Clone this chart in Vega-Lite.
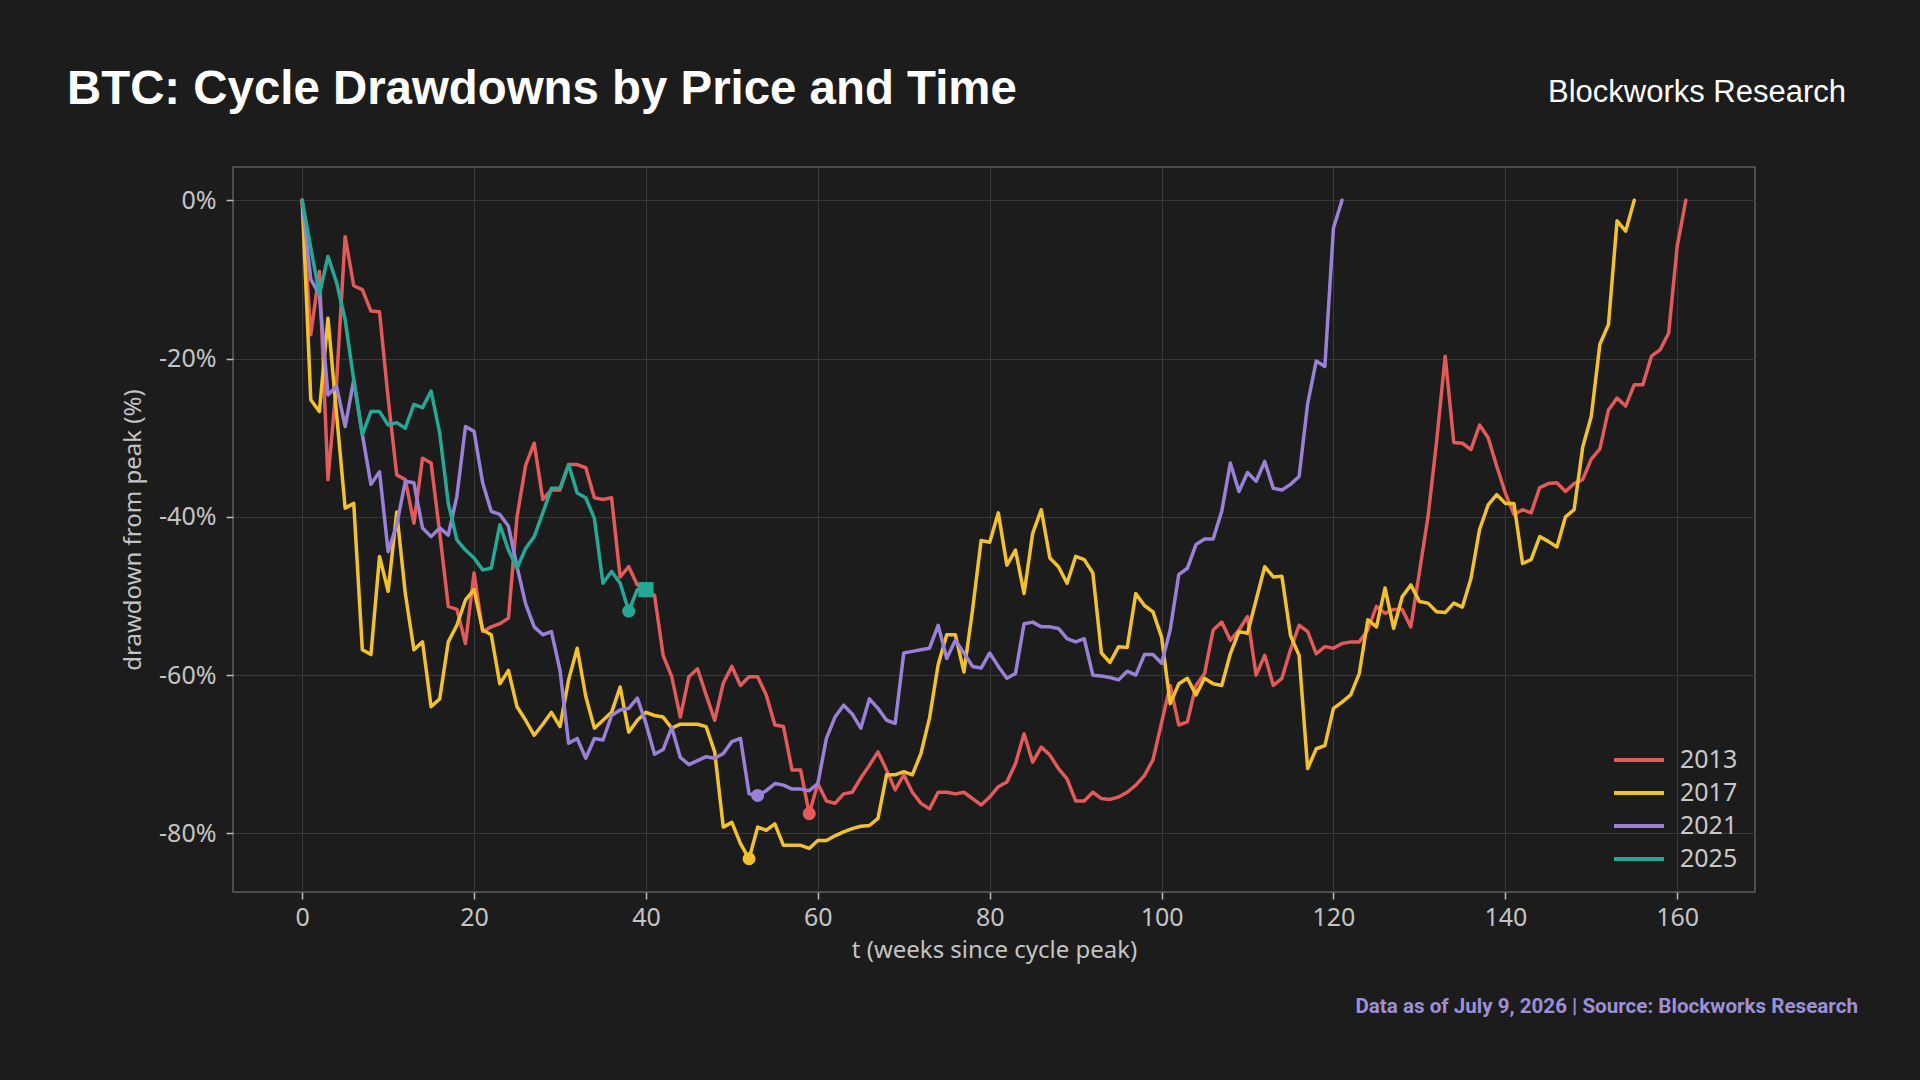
{
  "$schema": "https://vega.github.io/schema/vega-lite/v6.json",
  "width": 1522,
  "height": 725,
  "autosize": {"type": "none"},
  "padding": {"left": 233, "top": 167, "right": 165, "bottom": 188},
  "background": "#1c1c1c",
  "datasets": {
    "cycles": [
      {"cycle":"2013","week":0,"drawdown":0},{"cycle":"2013","week":1,"drawdown":-17},{"cycle":"2013","week":2,"drawdown":-9},{"cycle":"2013","week":3,"drawdown":-35.3},{"cycle":"2013","week":4,"drawdown":-23},{"cycle":"2013","week":5,"drawdown":-4.6},{"cycle":"2013","week":6,"drawdown":-10.8},{"cycle":"2013","week":7,"drawdown":-11.3},{"cycle":"2013","week":8,"drawdown":-14},{"cycle":"2013","week":9,"drawdown":-14.1},
      {"cycle":"2013","week":10,"drawdown":-25},{"cycle":"2013","week":11,"drawdown":-34.7},{"cycle":"2013","week":12,"drawdown":-35.3},{"cycle":"2013","week":13,"drawdown":-40.8},{"cycle":"2013","week":14,"drawdown":-32.6},{"cycle":"2013","week":15,"drawdown":-33.2},{"cycle":"2013","week":16,"drawdown":-42},{"cycle":"2013","week":17,"drawdown":-51.3},{"cycle":"2013","week":18,"drawdown":-51.7},{"cycle":"2013","week":19,"drawdown":-56},
      {"cycle":"2013","week":20,"drawdown":-47.1},{"cycle":"2013","week":21,"drawdown":-54.5},{"cycle":"2013","week":22,"drawdown":-53.9},{"cycle":"2013","week":23,"drawdown":-53.5},{"cycle":"2013","week":24,"drawdown":-52.8},{"cycle":"2013","week":25,"drawdown":-40},{"cycle":"2013","week":26,"drawdown":-33.5},{"cycle":"2013","week":27,"drawdown":-30.7},{"cycle":"2013","week":28,"drawdown":-37.8},{"cycle":"2013","week":29,"drawdown":-36.6},
      {"cycle":"2013","week":30,"drawdown":-36.6},{"cycle":"2013","week":31,"drawdown":-33.4},{"cycle":"2013","week":32,"drawdown":-33.4},{"cycle":"2013","week":33,"drawdown":-33.8},{"cycle":"2013","week":34,"drawdown":-37.6},{"cycle":"2013","week":35,"drawdown":-37.8},{"cycle":"2013","week":36,"drawdown":-37.6},{"cycle":"2013","week":37,"drawdown":-47.6},{"cycle":"2013","week":38,"drawdown":-46.3},{"cycle":"2013","week":39,"drawdown":-48.6},
      {"cycle":"2013","week":40,"drawdown":-49.3},{"cycle":"2013","week":41,"drawdown":-49.9},{"cycle":"2013","week":42,"drawdown":-57.5},{"cycle":"2013","week":43,"drawdown":-60.2},{"cycle":"2013","week":44,"drawdown":-65.3},{"cycle":"2013","week":45,"drawdown":-60.2},{"cycle":"2013","week":46,"drawdown":-59.2},{"cycle":"2013","week":47,"drawdown":-62.5},{"cycle":"2013","week":48,"drawdown":-65.7},{"cycle":"2013","week":49,"drawdown":-61},
      {"cycle":"2013","week":50,"drawdown":-58.9},{"cycle":"2013","week":51,"drawdown":-61.3},{"cycle":"2013","week":52,"drawdown":-60.2},{"cycle":"2013","week":53,"drawdown":-60.2},{"cycle":"2013","week":54,"drawdown":-62.5},{"cycle":"2013","week":55,"drawdown":-66.3},{"cycle":"2013","week":56,"drawdown":-66.5},{"cycle":"2013","week":57,"drawdown":-72},{"cycle":"2013","week":58,"drawdown":-72},{"cycle":"2013","week":59,"drawdown":-77.5},
      {"cycle":"2013","week":60,"drawdown":-73.7},{"cycle":"2013","week":61,"drawdown":-75.9},{"cycle":"2013","week":62,"drawdown":-76.2},{"cycle":"2013","week":63,"drawdown":-75},{"cycle":"2013","week":64,"drawdown":-74.8},{"cycle":"2013","week":65,"drawdown":-73},{"cycle":"2013","week":66,"drawdown":-71.4},{"cycle":"2013","week":67,"drawdown":-69.7},{"cycle":"2013","week":68,"drawdown":-72},{"cycle":"2013","week":69,"drawdown":-74.5},
      {"cycle":"2013","week":70,"drawdown":-72.6},{"cycle":"2013","week":71,"drawdown":-74.8},{"cycle":"2013","week":72,"drawdown":-76.2},{"cycle":"2013","week":73,"drawdown":-76.9},{"cycle":"2013","week":74,"drawdown":-74.8},{"cycle":"2013","week":75,"drawdown":-74.8},{"cycle":"2013","week":76,"drawdown":-75},{"cycle":"2013","week":77,"drawdown":-74.8},{"cycle":"2013","week":78,"drawdown":-75.6},{"cycle":"2013","week":79,"drawdown":-76.4},
      {"cycle":"2013","week":80,"drawdown":-75.4},{"cycle":"2013","week":81,"drawdown":-74.1},{"cycle":"2013","week":82,"drawdown":-73.5},{"cycle":"2013","week":83,"drawdown":-71.2},{"cycle":"2013","week":84,"drawdown":-67.4},{"cycle":"2013","week":85,"drawdown":-71},{"cycle":"2013","week":86,"drawdown":-69.1},{"cycle":"2013","week":87,"drawdown":-70.1},{"cycle":"2013","week":88,"drawdown":-71.8},{"cycle":"2013","week":89,"drawdown":-73.1},
      {"cycle":"2013","week":90,"drawdown":-75.9},{"cycle":"2013","week":91,"drawdown":-75.9},{"cycle":"2013","week":92,"drawdown":-74.8},{"cycle":"2013","week":93,"drawdown":-75.6},{"cycle":"2013","week":94,"drawdown":-75.7},{"cycle":"2013","week":95,"drawdown":-75.4},{"cycle":"2013","week":96,"drawdown":-74.8},{"cycle":"2013","week":97,"drawdown":-73.9},{"cycle":"2013","week":98,"drawdown":-72.7},{"cycle":"2013","week":99,"drawdown":-70.7},
      {"cycle":"2013","week":100,"drawdown":-66},{"cycle":"2013","week":101,"drawdown":-61.3},{"cycle":"2013","week":102,"drawdown":-66.3},{"cycle":"2013","week":103,"drawdown":-65.9},{"cycle":"2013","week":104,"drawdown":-61.3},{"cycle":"2013","week":105,"drawdown":-59.8},{"cycle":"2013","week":106,"drawdown":-54.3},{"cycle":"2013","week":107,"drawdown":-53.3},{"cycle":"2013","week":108,"drawdown":-55.6},{"cycle":"2013","week":109,"drawdown":-54.3},
      {"cycle":"2013","week":110,"drawdown":-52.6},{"cycle":"2013","week":111,"drawdown":-60},{"cycle":"2013","week":112,"drawdown":-57.5},{"cycle":"2013","week":113,"drawdown":-61.3},{"cycle":"2013","week":114,"drawdown":-60.4},{"cycle":"2013","week":115,"drawdown":-56.8},{"cycle":"2013","week":116,"drawdown":-53.7},{"cycle":"2013","week":117,"drawdown":-54.5},{"cycle":"2013","week":118,"drawdown":-57.3},{"cycle":"2013","week":119,"drawdown":-56.4},
      {"cycle":"2013","week":120,"drawdown":-56.6},{"cycle":"2013","week":121,"drawdown":-56},{"cycle":"2013","week":122,"drawdown":-55.8},{"cycle":"2013","week":123,"drawdown":-55.8},{"cycle":"2013","week":124,"drawdown":-54.3},{"cycle":"2013","week":125,"drawdown":-51.3},{"cycle":"2013","week":126,"drawdown":-52.2},{"cycle":"2013","week":127,"drawdown":-51.7},{"cycle":"2013","week":128,"drawdown":-51.7},{"cycle":"2013","week":129,"drawdown":-53.9},
      {"cycle":"2013","week":130,"drawdown":-47},{"cycle":"2013","week":131,"drawdown":-40},{"cycle":"2013","week":132,"drawdown":-30.5},{"cycle":"2013","week":133,"drawdown":-19.7},{"cycle":"2013","week":134,"drawdown":-30.6},{"cycle":"2013","week":135,"drawdown":-30.7},{"cycle":"2013","week":136,"drawdown":-31.5},{"cycle":"2013","week":137,"drawdown":-28.4},{"cycle":"2013","week":138,"drawdown":-30},{"cycle":"2013","week":139,"drawdown":-33.6},
      {"cycle":"2013","week":140,"drawdown":-37},{"cycle":"2013","week":141,"drawdown":-39.7},{"cycle":"2013","week":142,"drawdown":-39.1},{"cycle":"2013","week":143,"drawdown":-39.5},{"cycle":"2013","week":144,"drawdown":-36.3},{"cycle":"2013","week":145,"drawdown":-35.8},{"cycle":"2013","week":146,"drawdown":-35.7},{"cycle":"2013","week":147,"drawdown":-36.8},{"cycle":"2013","week":148,"drawdown":-35.8},{"cycle":"2013","week":149,"drawdown":-35.3},
      {"cycle":"2013","week":150,"drawdown":-32.7},{"cycle":"2013","week":151,"drawdown":-31.4},{"cycle":"2013","week":152,"drawdown":-26.5},{"cycle":"2013","week":153,"drawdown":-25},{"cycle":"2013","week":154,"drawdown":-26},{"cycle":"2013","week":155,"drawdown":-23.3},{"cycle":"2013","week":156,"drawdown":-23.3},{"cycle":"2013","week":157,"drawdown":-19.7},{"cycle":"2013","week":158,"drawdown":-18.9},{"cycle":"2013","week":159,"drawdown":-16.8},
      {"cycle":"2013","week":160,"drawdown":-5.8},{"cycle":"2013","week":161,"drawdown":0},

      {"cycle":"2017","week":0,"drawdown":0},{"cycle":"2017","week":1,"drawdown":-25.2},{"cycle":"2017","week":2,"drawdown":-26.7},{"cycle":"2017","week":3,"drawdown":-14.9},{"cycle":"2017","week":4,"drawdown":-27},{"cycle":"2017","week":5,"drawdown":-38.9},{"cycle":"2017","week":6,"drawdown":-38.3},{"cycle":"2017","week":7,"drawdown":-56.8},{"cycle":"2017","week":8,"drawdown":-57.4},{"cycle":"2017","week":9,"drawdown":-45},
      {"cycle":"2017","week":10,"drawdown":-49.4},{"cycle":"2017","week":11,"drawdown":-39.4},{"cycle":"2017","week":12,"drawdown":-49.7},{"cycle":"2017","week":13,"drawdown":-56.8},{"cycle":"2017","week":14,"drawdown":-55.8},{"cycle":"2017","week":15,"drawdown":-64},{"cycle":"2017","week":16,"drawdown":-63},{"cycle":"2017","week":17,"drawdown":-55.8},{"cycle":"2017","week":18,"drawdown":-53.7},{"cycle":"2017","week":19,"drawdown":-50.5},
      {"cycle":"2017","week":20,"drawdown":-49.2},{"cycle":"2017","week":21,"drawdown":-54.3},{"cycle":"2017","week":22,"drawdown":-54.9},{"cycle":"2017","week":23,"drawdown":-61.1},{"cycle":"2017","week":24,"drawdown":-59.4},{"cycle":"2017","week":25,"drawdown":-64},{"cycle":"2017","week":26,"drawdown":-65.7},{"cycle":"2017","week":27,"drawdown":-67.6},{"cycle":"2017","week":28,"drawdown":-66.2},{"cycle":"2017","week":29,"drawdown":-64.7},
      {"cycle":"2017","week":30,"drawdown":-66.5},{"cycle":"2017","week":31,"drawdown":-60.6},{"cycle":"2017","week":32,"drawdown":-56.6},{"cycle":"2017","week":33,"drawdown":-62.7},{"cycle":"2017","week":34,"drawdown":-66.7},{"cycle":"2017","week":35,"drawdown":-65.7},{"cycle":"2017","week":36,"drawdown":-64.7},{"cycle":"2017","week":37,"drawdown":-61.5},{"cycle":"2017","week":38,"drawdown":-67.2},{"cycle":"2017","week":39,"drawdown":-65.7},
      {"cycle":"2017","week":40,"drawdown":-64.7},{"cycle":"2017","week":41,"drawdown":-65.1},{"cycle":"2017","week":42,"drawdown":-65.3},{"cycle":"2017","week":43,"drawdown":-66.7},{"cycle":"2017","week":44,"drawdown":-66.2},{"cycle":"2017","week":45,"drawdown":-66.2},{"cycle":"2017","week":46,"drawdown":-66.2},{"cycle":"2017","week":47,"drawdown":-66.5},{"cycle":"2017","week":48,"drawdown":-69.7},{"cycle":"2017","week":49,"drawdown":-79.2},
      {"cycle":"2017","week":50,"drawdown":-78.6},{"cycle":"2017","week":51,"drawdown":-81.3},{"cycle":"2017","week":52,"drawdown":-83.2},{"cycle":"2017","week":53,"drawdown":-79.2},{"cycle":"2017","week":54,"drawdown":-79.6},{"cycle":"2017","week":55,"drawdown":-78.8},{"cycle":"2017","week":56,"drawdown":-81.5},{"cycle":"2017","week":57,"drawdown":-81.5},{"cycle":"2017","week":58,"drawdown":-81.5},{"cycle":"2017","week":59,"drawdown":-81.9},
      {"cycle":"2017","week":60,"drawdown":-80.9},{"cycle":"2017","week":61,"drawdown":-80.9},{"cycle":"2017","week":62,"drawdown":-80.3},{"cycle":"2017","week":63,"drawdown":-79.8},{"cycle":"2017","week":64,"drawdown":-79.4},{"cycle":"2017","week":65,"drawdown":-79.1},{"cycle":"2017","week":66,"drawdown":-79},{"cycle":"2017","week":67,"drawdown":-78.1},{"cycle":"2017","week":68,"drawdown":-72.6},{"cycle":"2017","week":69,"drawdown":-72.6},
      {"cycle":"2017","week":70,"drawdown":-72.2},{"cycle":"2017","week":71,"drawdown":-72.6},{"cycle":"2017","week":72,"drawdown":-69.9},{"cycle":"2017","week":73,"drawdown":-65.4},{"cycle":"2017","week":74,"drawdown":-58.7},{"cycle":"2017","week":75,"drawdown":-54.9},{"cycle":"2017","week":76,"drawdown":-54.9},{"cycle":"2017","week":77,"drawdown":-59.6},{"cycle":"2017","week":78,"drawdown":-51.8},{"cycle":"2017","week":79,"drawdown":-43},
      {"cycle":"2017","week":80,"drawdown":-43.2},{"cycle":"2017","week":81,"drawdown":-39.5},{"cycle":"2017","week":82,"drawdown":-46.1},{"cycle":"2017","week":83,"drawdown":-44.2},{"cycle":"2017","week":84,"drawdown":-49.7},{"cycle":"2017","week":85,"drawdown":-42.1},{"cycle":"2017","week":86,"drawdown":-39.1},{"cycle":"2017","week":87,"drawdown":-45.2},{"cycle":"2017","week":88,"drawdown":-46.3},{"cycle":"2017","week":89,"drawdown":-48.4},
      {"cycle":"2017","week":90,"drawdown":-45},{"cycle":"2017","week":91,"drawdown":-45.4},{"cycle":"2017","week":92,"drawdown":-47.1},{"cycle":"2017","week":93,"drawdown":-57.2},{"cycle":"2017","week":94,"drawdown":-58.4},{"cycle":"2017","week":95,"drawdown":-56.4},{"cycle":"2017","week":96,"drawdown":-56.5},{"cycle":"2017","week":97,"drawdown":-49.7},{"cycle":"2017","week":98,"drawdown":-51.2},{"cycle":"2017","week":99,"drawdown":-52},
      {"cycle":"2017","week":100,"drawdown":-55.2},{"cycle":"2017","week":101,"drawdown":-63.6},{"cycle":"2017","week":102,"drawdown":-61.1},{"cycle":"2017","week":103,"drawdown":-60.4},{"cycle":"2017","week":104,"drawdown":-62.5},{"cycle":"2017","week":105,"drawdown":-60.4},{"cycle":"2017","week":106,"drawdown":-61.1},{"cycle":"2017","week":107,"drawdown":-61.3},{"cycle":"2017","week":108,"drawdown":-57.3},{"cycle":"2017","week":109,"drawdown":-54.5},
      {"cycle":"2017","week":110,"drawdown":-54.7},{"cycle":"2017","week":111,"drawdown":-50.5},{"cycle":"2017","week":112,"drawdown":-46.3},{"cycle":"2017","week":113,"drawdown":-47.6},{"cycle":"2017","week":114,"drawdown":-47.5},{"cycle":"2017","week":115,"drawdown":-55},{"cycle":"2017","week":116,"drawdown":-57.5},{"cycle":"2017","week":117,"drawdown":-71.8},{"cycle":"2017","week":118,"drawdown":-69.3},{"cycle":"2017","week":119,"drawdown":-68.9},
      {"cycle":"2017","week":120,"drawdown":-64.2},{"cycle":"2017","week":121,"drawdown":-63.4},{"cycle":"2017","week":122,"drawdown":-62.5},{"cycle":"2017","week":123,"drawdown":-59.8},{"cycle":"2017","week":124,"drawdown":-53},{"cycle":"2017","week":125,"drawdown":-53.9},{"cycle":"2017","week":126,"drawdown":-49},{"cycle":"2017","week":127,"drawdown":-54.1},{"cycle":"2017","week":128,"drawdown":-50.1},{"cycle":"2017","week":129,"drawdown":-48.6},
      {"cycle":"2017","week":130,"drawdown":-50.7},{"cycle":"2017","week":131,"drawdown":-50.9},{"cycle":"2017","week":132,"drawdown":-52},{"cycle":"2017","week":133,"drawdown":-52.1},{"cycle":"2017","week":134,"drawdown":-50.9},{"cycle":"2017","week":135,"drawdown":-51.4},{"cycle":"2017","week":136,"drawdown":-47.8},{"cycle":"2017","week":137,"drawdown":-41.6},{"cycle":"2017","week":138,"drawdown":-38.5},{"cycle":"2017","week":139,"drawdown":-37.2},
      {"cycle":"2017","week":140,"drawdown":-38.3},{"cycle":"2017","week":141,"drawdown":-38.3},{"cycle":"2017","week":142,"drawdown":-45.9},{"cycle":"2017","week":143,"drawdown":-45.4},{"cycle":"2017","week":144,"drawdown":-42.5},{"cycle":"2017","week":145,"drawdown":-43.1},{"cycle":"2017","week":146,"drawdown":-43.8},{"cycle":"2017","week":147,"drawdown":-40},{"cycle":"2017","week":148,"drawdown":-39.1},{"cycle":"2017","week":149,"drawdown":-31.2},
      {"cycle":"2017","week":150,"drawdown":-27.3},{"cycle":"2017","week":151,"drawdown":-18.2},{"cycle":"2017","week":152,"drawdown":-15.7},{"cycle":"2017","week":153,"drawdown":-2.6},{"cycle":"2017","week":154,"drawdown":-3.9},{"cycle":"2017","week":155,"drawdown":0},

      {"cycle":"2021","week":0,"drawdown":0},{"cycle":"2021","week":1,"drawdown":-10},{"cycle":"2021","week":2,"drawdown":-11.9},{"cycle":"2021","week":3,"drawdown":-24.6},{"cycle":"2021","week":4,"drawdown":-23.5},{"cycle":"2021","week":5,"drawdown":-28.6},{"cycle":"2021","week":6,"drawdown":-22.7},{"cycle":"2021","week":7,"drawdown":-29.6},{"cycle":"2021","week":8,"drawdown":-35.9},{"cycle":"2021","week":9,"drawdown":-34.3},
      {"cycle":"2021","week":10,"drawdown":-44.4},{"cycle":"2021","week":11,"drawdown":-41},{"cycle":"2021","week":12,"drawdown":-35.5},{"cycle":"2021","week":13,"drawdown":-35.7},{"cycle":"2021","week":14,"drawdown":-41.4},{"cycle":"2021","week":15,"drawdown":-42.5},{"cycle":"2021","week":16,"drawdown":-41.4},{"cycle":"2021","week":17,"drawdown":-42.3},{"cycle":"2021","week":18,"drawdown":-37.4},{"cycle":"2021","week":19,"drawdown":-28.6},
      {"cycle":"2021","week":20,"drawdown":-29.2},{"cycle":"2021","week":21,"drawdown":-35.7},{"cycle":"2021","week":22,"drawdown":-39.3},{"cycle":"2021","week":23,"drawdown":-39.7},{"cycle":"2021","week":24,"drawdown":-41.2},{"cycle":"2021","week":25,"drawdown":-46.3},{"cycle":"2021","week":26,"drawdown":-51},{"cycle":"2021","week":27,"drawdown":-53.9},{"cycle":"2021","week":28,"drawdown":-54.9},{"cycle":"2021","week":29,"drawdown":-54.5},
      {"cycle":"2021","week":30,"drawdown":-59.4},{"cycle":"2021","week":31,"drawdown":-68.6},{"cycle":"2021","week":32,"drawdown":-68},{"cycle":"2021","week":33,"drawdown":-70.5},{"cycle":"2021","week":34,"drawdown":-68},{"cycle":"2021","week":35,"drawdown":-68.2},{"cycle":"2021","week":36,"drawdown":-65.1},{"cycle":"2021","week":37,"drawdown":-64.4},{"cycle":"2021","week":38,"drawdown":-64.2},{"cycle":"2021","week":39,"drawdown":-62.9},
      {"cycle":"2021","week":40,"drawdown":-66.1},{"cycle":"2021","week":41,"drawdown":-70},{"cycle":"2021","week":42,"drawdown":-69.4},{"cycle":"2021","week":43,"drawdown":-66.6},{"cycle":"2021","week":44,"drawdown":-70.4},{"cycle":"2021","week":45,"drawdown":-71.3},{"cycle":"2021","week":46,"drawdown":-70.8},{"cycle":"2021","week":47,"drawdown":-70.3},{"cycle":"2021","week":48,"drawdown":-70.5},{"cycle":"2021","week":49,"drawdown":-69.9},
      {"cycle":"2021","week":50,"drawdown":-68.4},{"cycle":"2021","week":51,"drawdown":-68},{"cycle":"2021","week":52,"drawdown":-75},{"cycle":"2021","week":53,"drawdown":-75.2},{"cycle":"2021","week":54,"drawdown":-74.6},{"cycle":"2021","week":55,"drawdown":-73.7},{"cycle":"2021","week":56,"drawdown":-73.9},{"cycle":"2021","week":57,"drawdown":-74.4},{"cycle":"2021","week":58,"drawdown":-74.4},{"cycle":"2021","week":59,"drawdown":-74.6},
      {"cycle":"2021","week":60,"drawdown":-73.7},{"cycle":"2021","week":61,"drawdown":-68},{"cycle":"2021","week":62,"drawdown":-65.3},{"cycle":"2021","week":63,"drawdown":-63.8},{"cycle":"2021","week":64,"drawdown":-64.9},{"cycle":"2021","week":65,"drawdown":-66.7},{"cycle":"2021","week":66,"drawdown":-63},{"cycle":"2021","week":67,"drawdown":-64.2},{"cycle":"2021","week":68,"drawdown":-65.7},{"cycle":"2021","week":69,"drawdown":-66.1},
      {"cycle":"2021","week":70,"drawdown":-57.2},{"cycle":"2021","week":71,"drawdown":-57},{"cycle":"2021","week":72,"drawdown":-56.8},{"cycle":"2021","week":73,"drawdown":-56.6},{"cycle":"2021","week":74,"drawdown":-53.7},{"cycle":"2021","week":75,"drawdown":-57.9},{"cycle":"2021","week":76,"drawdown":-55.6},{"cycle":"2021","week":77,"drawdown":-57.2},{"cycle":"2021","week":78,"drawdown":-58.9},{"cycle":"2021","week":79,"drawdown":-59.1},
      {"cycle":"2021","week":80,"drawdown":-57.2},{"cycle":"2021","week":81,"drawdown":-58.9},{"cycle":"2021","week":82,"drawdown":-60.4},{"cycle":"2021","week":83,"drawdown":-59.8},{"cycle":"2021","week":84,"drawdown":-53.5},{"cycle":"2021","week":85,"drawdown":-53.3},{"cycle":"2021","week":86,"drawdown":-53.9},{"cycle":"2021","week":87,"drawdown":-53.9},{"cycle":"2021","week":88,"drawdown":-54.1},{"cycle":"2021","week":89,"drawdown":-55.4},
      {"cycle":"2021","week":90,"drawdown":-55.8},{"cycle":"2021","week":91,"drawdown":-55.4},{"cycle":"2021","week":92,"drawdown":-60},{"cycle":"2021","week":93,"drawdown":-60.1},{"cycle":"2021","week":94,"drawdown":-60.3},{"cycle":"2021","week":95,"drawdown":-60.6},{"cycle":"2021","week":96,"drawdown":-59.5},{"cycle":"2021","week":97,"drawdown":-60},{"cycle":"2021","week":98,"drawdown":-57.4},{"cycle":"2021","week":99,"drawdown":-57.4},
      {"cycle":"2021","week":100,"drawdown":-58.5},{"cycle":"2021","week":101,"drawdown":-54.3},{"cycle":"2021","week":102,"drawdown":-47.3},{"cycle":"2021","week":103,"drawdown":-46.5},{"cycle":"2021","week":104,"drawdown":-43.5},{"cycle":"2021","week":105,"drawdown":-42.8},{"cycle":"2021","week":106,"drawdown":-42.8},{"cycle":"2021","week":107,"drawdown":-39.3},{"cycle":"2021","week":108,"drawdown":-33.2},{"cycle":"2021","week":109,"drawdown":-36.8},
      {"cycle":"2021","week":110,"drawdown":-34.4},{"cycle":"2021","week":111,"drawdown":-35.5},{"cycle":"2021","week":112,"drawdown":-33},{"cycle":"2021","week":113,"drawdown":-36.4},{"cycle":"2021","week":114,"drawdown":-36.6},{"cycle":"2021","week":115,"drawdown":-35.9},{"cycle":"2021","week":116,"drawdown":-34.9},{"cycle":"2021","week":117,"drawdown":-25.7},{"cycle":"2021","week":118,"drawdown":-20.3},{"cycle":"2021","week":119,"drawdown":-21},
      {"cycle":"2021","week":120,"drawdown":-3.5},{"cycle":"2021","week":121,"drawdown":0},

      {"cycle":"2025","week":0,"drawdown":0},{"cycle":"2025","week":1,"drawdown":-6},{"cycle":"2025","week":2,"drawdown":-11.9},{"cycle":"2025","week":3,"drawdown":-7.1},{"cycle":"2025","week":4,"drawdown":-10.4},{"cycle":"2025","week":5,"drawdown":-15.1},{"cycle":"2025","week":6,"drawdown":-22.7},{"cycle":"2025","week":7,"drawdown":-29.6},{"cycle":"2025","week":8,"drawdown":-26.7},{"cycle":"2025","week":9,"drawdown":-26.7},
      {"cycle":"2025","week":10,"drawdown":-28.4},{"cycle":"2025","week":11,"drawdown":-28.1},{"cycle":"2025","week":12,"drawdown":-28.8},{"cycle":"2025","week":13,"drawdown":-25.8},{"cycle":"2025","week":14,"drawdown":-26.2},{"cycle":"2025","week":15,"drawdown":-24.1},{"cycle":"2025","week":16,"drawdown":-29.4},{"cycle":"2025","week":17,"drawdown":-38.3},{"cycle":"2025","week":18,"drawdown":-42.9},{"cycle":"2025","week":19,"drawdown":-44.2},
      {"cycle":"2025","week":20,"drawdown":-45.2},{"cycle":"2025","week":21,"drawdown":-46.7},{"cycle":"2025","week":22,"drawdown":-46.5},{"cycle":"2025","week":23,"drawdown":-41},{"cycle":"2025","week":24,"drawdown":-44.2},{"cycle":"2025","week":25,"drawdown":-46.5},{"cycle":"2025","week":26,"drawdown":-44},{"cycle":"2025","week":27,"drawdown":-42.5},{"cycle":"2025","week":28,"drawdown":-39.5},{"cycle":"2025","week":29,"drawdown":-36.4},
      {"cycle":"2025","week":30,"drawdown":-36.4},{"cycle":"2025","week":31,"drawdown":-33.4},{"cycle":"2025","week":32,"drawdown":-37},{"cycle":"2025","week":33,"drawdown":-37.6},{"cycle":"2025","week":34,"drawdown":-40.2},{"cycle":"2025","week":35,"drawdown":-48.4},{"cycle":"2025","week":36,"drawdown":-46.9},{"cycle":"2025","week":37,"drawdown":-48.4},{"cycle":"2025","week":38,"drawdown":-51.9},{"cycle":"2025","week":39,"drawdown":-49.2},
      {"cycle":"2025","week":40,"drawdown":-49.2}
    ],
    "markers": [
      {"cycle":"2013","week":59,"drawdown":-77.5,"kind":"min"},
      {"cycle":"2017","week":52,"drawdown":-83.2,"kind":"min"},
      {"cycle":"2021","week":53,"drawdown":-75.2,"kind":"min"},
      {"cycle":"2025","week":38,"drawdown":-51.9,"kind":"min"},
      {"cycle":"2025","week":40,"drawdown":-49.2,"kind":"current"}
    ]
  },
  "layer": [
    {
      "mark": {"type": "rule", "color": "#9a9a9a", "strokeWidth": 2},
      "encoding": {
        "y": {"datum": 0, "type": "quantitative", "scale": {"domain": [-87.4, 4.2], "nice": false, "zero": false}, "axis": {"values": [0, -20, -40, -60, -80], "labelExpr": "datum.value + '%'", "title": "drawdown from peak (%)", "titlePadding": 13, "labelPadding": 10, "tickSize": 7}}
      }
    },
    {
      "data": {"name": "cycles"},
      "mark": {"type": "line", "strokeWidth": 3.5, "strokeJoin": "round", "strokeCap": "round"},
      "encoding": {
        "x": {"field": "week", "type": "quantitative", "scale": {"domain": [-8.05, 169.05], "nice": false, "zero": false}, "axis": {"values": [0, 20, 40, 60, 80, 100, 120, 140, 160], "title": "t (weeks since cycle peak)", "labelPadding": 6, "titlePadding": 8, "tickSize": 7}},
        "y": {"field": "drawdown", "type": "quantitative", "scale": {"domain": [-87.4, 4.2], "nice": false, "zero": false}, "axis": {"values": [0, -20, -40, -60, -80], "labelExpr": "datum.value + '%'", "title": "drawdown from peak (%)", "titlePadding": 13, "labelPadding": 10, "tickSize": 7}},
        "color": {
          "field": "cycle", "type": "nominal",
          "scale": {"domain": ["2013", "2017", "2021", "2025"], "range": ["#e35a5a", "#f2c12e", "#9a80d6", "#25a896"]},
          "legend": {"title": null, "orient": "none", "legendX": 1391.5, "legendY": 578.5, "symbolType": "M-2,0H2", "symbolSize": 625, "symbolStrokeWidth": 4, "labelFontSize": 25, "labelColor": "#c8c8c8", "labelOffset": 26.5, "rowPadding": 5, "padding": 0}
        }
      }
    },
    {
      "data": {"name": "markers"},
      "mark": {"type": "point", "filled": true, "opacity": 1},
      "encoding": {
        "x": {"field": "week", "type": "quantitative", "scale": {"domain": [-8.05, 169.05], "nice": false, "zero": false}, "axis": {"values": [0, 20, 40, 60, 80, 100, 120, 140, 160], "title": "t (weeks since cycle peak)", "labelPadding": 6, "titlePadding": 8, "tickSize": 7}},
        "y": {"field": "drawdown", "type": "quantitative", "scale": {"domain": [-87.4, 4.2], "nice": false, "zero": false}, "axis": {"values": [0, -20, -40, -60, -80], "labelExpr": "datum.value + '%'", "title": "drawdown from peak (%)", "titlePadding": 13, "labelPadding": 10, "tickSize": 7}},
        "color": {
          "field": "cycle", "type": "nominal",
          "scale": {"domain": ["2013", "2017", "2021", "2025"], "range": ["#e35a5a", "#f2c12e", "#9a80d6", "#25a896"]},
          "legend": {"title": null, "orient": "none", "legendX": 1391.5, "legendY": 578.5, "symbolType": "M-2,0H2", "symbolSize": 625, "symbolStrokeWidth": 4, "labelFontSize": 25, "labelColor": "#c8c8c8", "labelOffset": 26.5, "rowPadding": 5, "padding": 0}
        },
        "shape": {"field": "kind", "type": "nominal", "scale": {"domain": ["min", "current"], "range": ["circle", "square"]}, "legend": null},
        "size": {"field": "kind", "type": "ordinal", "scale": {"domain": ["min", "current"], "range": [170, 230]}, "legend": null}
      }
    },
    {
      "data": {"values": [{"label": "BTC: Cycle Drawdowns by Price and Time"}]},
      "mark": {"type": "text", "align": "left", "baseline": "alphabetic", "font": "Liberation Sans", "fontWeight": "bold", "fontSize": 47.4, "color": "#ffffff"},
      "encoding": {
        "x": {"datum": -27.37, "type": "quantitative", "scale": {"domain": [-8.05, 169.05], "nice": false, "zero": false}, "axis": {"values": [0, 20, 40, 60, 80, 100, 120, 140, 160], "title": "t (weeks since cycle peak)", "labelPadding": 6, "titlePadding": 8, "tickSize": 7}},
        "y": {"datum": 12.16, "type": "quantitative", "scale": {"domain": [-87.4, 4.2], "nice": false, "zero": false}, "axis": {"values": [0, -20, -40, -60, -80], "labelExpr": "datum.value + '%'", "title": "drawdown from peak (%)", "titlePadding": 13, "labelPadding": 10, "tickSize": 7}},
        "text": {"field": "label"}
      }
    },
    {
      "data": {"values": [{"label": "Blockworks Research"}]},
      "mark": {"type": "text", "align": "right", "baseline": "alphabetic", "font": "Liberation Sans", "fontSize": 31, "color": "#ffffff"},
      "encoding": {
        "x": {"datum": 179.64, "type": "quantitative", "scale": {"domain": [-8.05, 169.05], "nice": false, "zero": false}, "axis": {"values": [0, 20, 40, 60, 80, 100, 120, 140, 160], "title": "t (weeks since cycle peak)", "labelPadding": 6, "titlePadding": 8, "tickSize": 7}},
        "y": {"datum": 12.45, "type": "quantitative", "scale": {"domain": [-87.4, 4.2], "nice": false, "zero": false}, "axis": {"values": [0, -20, -40, -60, -80], "labelExpr": "datum.value + '%'", "title": "drawdown from peak (%)", "titlePadding": 13, "labelPadding": 10, "tickSize": 7}},
        "text": {"field": "label"}
      }
    },
    {
      "data": {"values": [{"label": "Data as of July 9, 2026 | Source: Blockworks Research"}]},
      "mark": {"type": "text", "align": "right", "baseline": "alphabetic", "font": "Roboto", "fontWeight": "bold", "fontSize": 20.6, "color": "#9d90d6"},
      "encoding": {
        "x": {"datum": 181.03, "type": "quantitative", "scale": {"domain": [-8.05, 169.05], "nice": false, "zero": false}, "axis": {"values": [0, 20, 40, 60, 80, 100, 120, 140, 160], "title": "t (weeks since cycle peak)", "labelPadding": 6, "titlePadding": 8, "tickSize": 7}},
        "y": {"datum": -102.7, "type": "quantitative", "scale": {"domain": [-87.4, 4.2], "nice": false, "zero": false}, "axis": {"values": [0, -20, -40, -60, -80], "labelExpr": "datum.value + '%'", "title": "drawdown from peak (%)", "titlePadding": 13, "labelPadding": 10, "tickSize": 7}},
        "text": {"field": "label"}
      }
    }
  ],
  "config": {
    "font": "Noto Sans",
    "view": {"stroke": "#5e5e5e", "strokeWidth": 1.5},
    "axis": {
      "domain": false,
      "grid": true,
      "gridColor": "#383838",
      "gridWidth": 1,
      "tickColor": "#bdbdbd",
      "tickWidth": 1.5,
      "labelColor": "#c4c4c4",
      "titleColor": "#c4c4c4",
      "labelFont": "Noto Sans",
      "titleFont": "Noto Sans",
      "labelFontSize": 25,
      "titleFontSize": 24,
      "titleFontWeight": "normal"
    },
    "legend": {"labelFont": "Noto Sans"}
  }
}
